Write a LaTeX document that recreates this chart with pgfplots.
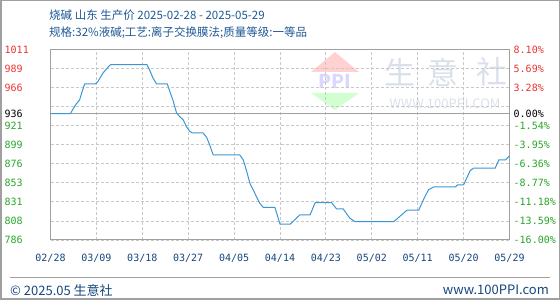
\documentclass[border=0pt]{standalone}
\usepackage{pgfplots}
\pgfplotsset{compat=1.18}
\usepackage{fontspec}
\setmainfont{Noto Sans CJK SC}
\newfontfamily\monofont{DejaVu Sans Mono}
\definecolor{cr}{RGB}{235,50,50}
\definecolor{cg}{RGB}{40,165,40}
\definecolor{ttl}{RGB}{30,88,150}
\definecolor{xlab}{RGB}{20,70,125}
\definecolor{ln}{RGB}{58,150,214}
\definecolor{gridc}{RGB}{200,200,200}
\definecolor{framec}{RGB}{160,160,160}
\definecolor{wm}{RGB}{218,224,235}
\begin{document}
\begin{tikzpicture}
\path[use as bounding box] (0pt,0pt) rectangle (560pt,300pt);
\draw[framec,line width=1.5pt] (0.75pt,0.75pt) rectangle (559.25pt,299.25pt);
% title
\node[anchor=west,text=ttl,inner sep=0pt,font=\fontsize{11.5}{13}\selectfont] at (49pt,285pt) {烧碱 山东 生产价 2025-02-28 - 2025-05-29};
\node[anchor=west,text=ttl,inner sep=0pt,font=\fontsize{11.5}{13}\selectfont] at (49pt,267pt) {规格:32\%液碱;工艺:离子交换膜法;质量等级:一等品};
% watermark
\fill[red!18!white] (311pt,228pt) -- (335pt,248pt) -- (359pt,228pt) -- cycle;
\node[text=blue!15!white,inner sep=0pt,font=\fontsize{19}{20}\selectfont\bfseries] at (335pt,219pt) {PPI};
\fill[green!18!white] (311pt,207pt) -- (359pt,207pt) -- (335pt,190pt) -- cycle;
\node[text=wm,inner sep=0pt,font=\fontsize{31}{32}\selectfont] at (400pt,228pt) {生};
\node[text=wm,inner sep=0pt,font=\fontsize{31}{32}\selectfont] at (443pt,228pt) {意};
\node[text=wm,inner sep=0pt,font=\fontsize{31}{32}\selectfont] at (492pt,228pt) {社};
\node[text=wm,inner sep=0pt,font=\fontsize{13}{14}\selectfont] at (445pt,196pt) {WWW.100PPI.COM};
\begin{axis}[
  at={(50.5pt,60pt)}, anchor=south west,
  scale only axis, width=459pt, height=190.5pt,
  xmin=0, xmax=90, ymin=786.24, ymax=1011.8,
  axis line style={framec,line width=1pt},
  xtick={0,9,...,90},
  xticklabels={02/28,03/09,03/18,03/27,04/05,04/14,04/23,05/02,05/11,05/20,05/29},
  xticklabel style={text=xlab,yshift=-11pt},
  ytick={786.24,808.796,831.352,853.908,876.464,899.02,921.576,944.132,966.688,989.244,1011.8},
  yticklabels={\textcolor{cg}{786},\textcolor{cg}{808},\textcolor{cg}{831},\textcolor{cg}{853},\textcolor{cg}{876},\textcolor{cg}{899},\textcolor{cg}{921},{},\textcolor{cr}{966},\textcolor{cr}{989},\textcolor{cr}{1011}},
  yticklabel style={anchor=west,xshift=-46pt,inner sep=0pt},
  extra y ticks={936},
  extra y tick labels={936},
  extra y tick style={grid=major, major grid style={solid,framec,line width=1pt}, yticklabel style={text=black}},
  tick label style={font=\monofont\fontsize{10}{12}\selectfont},
  major tick length=0pt,
  grid=major,
  major grid style={gridc,dash pattern=on 3pt off 2pt,line width=0.8pt},
  clip=false,
]
\addplot[ln,line width=1pt] coordinates {
(0,936) (3.9,936) (4.4,941) (5.0,947) (5.7,952) (6.2,962) (6.7,971) (8.8,971)
(9.3,974) (10.3,984) (11.3,991) (11.8,994) (18.9,994) (19.4,988) (20.1,978)
(20.8,971) (22.9,971) (23.4,962) (24.0,952) (24.7,937) (25.3,932.6) (26.0,928.7)
(26.7,920) (27.3,915) (27.8,913) (29.9,913) (30.6,908) (31.2,899) (31.9,887)
(37.1,887) (37.8,881) (38.4,869) (39.1,853.5) (41.0,830) (41.7,825) (44.0,825)
(45.0,805) (47.0,805) (48.9,816) (50.9,816) (51.9,830.5) (55.1,830.5) (56.1,823)
(57.4,823) (58.7,812) (59.7,808) (67.3,808) (69.9,821.5) (72.2,821.5) (73.1,833.7)
(74.1,845.6) (75.1,849) (79.4,849) (79.8,851.5) (81.0,851.5) (82.3,868.5)
(83.0,871.4) (87.2,871.4) (87.9,881) (89.2,881) (90,886)
};
\end{axis}
\begin{axis}[
  at={(50.5pt,60pt)}, anchor=south west,
  scale only axis, width=459pt, height=190.5pt,
  xmin=0, xmax=90, ymin=786.24, ymax=1011.8,
  hide x axis, axis y line*=right,
  axis line style={draw=none},
  ytick={786.24,808.796,831.352,853.908,876.464,899.02,921.576,944.132,966.688,989.244,1011.8},
  yticklabels={\textcolor{cg}{-16.00\%},\textcolor{cg}{-13.59\%},\textcolor{cg}{-11.18\%},\textcolor{cg}{-8.77\%},\textcolor{cg}{-6.36\%},\textcolor{cg}{-3.95\%},\textcolor{cg}{-1.54\%},{},\textcolor{cr}{3.28\%},\textcolor{cr}{5.69\%},\textcolor{cr}{8.10\%}},
  extra y ticks={936},
  extra y tick labels={0.00\%},
  yticklabel style={anchor=west,inner sep=0pt,xshift=4pt},
  tick label style={font=\monofont\fontsize{10}{12}\selectfont},
  major tick length=0pt,
]
\end{axis}
% footer
\draw[framec,line width=1pt] (10pt,22pt) -- (550pt,22pt);
\node[anchor=west,text=xlab,inner sep=0pt,font=\fontsize{13}{15}\selectfont] at (10pt,10pt) {© 2025.05 生意社};
\node[anchor=east,text=xlab,inner sep=0pt,font=\fontsize{13}{15}\selectfont] at (549pt,10pt) {www.100PPI.com};
\end{tikzpicture}
\end{document}
